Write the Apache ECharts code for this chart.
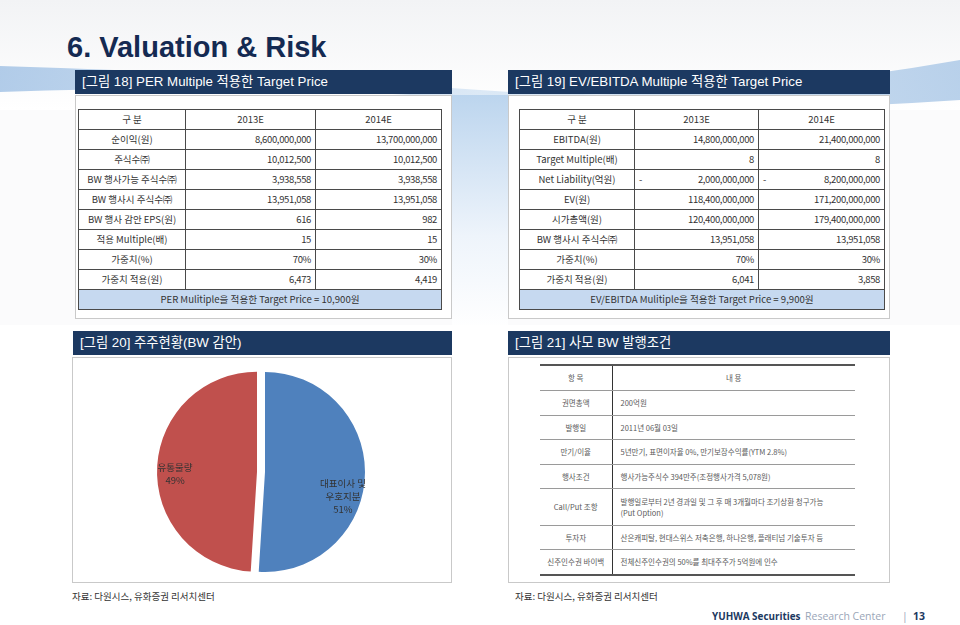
<!DOCTYPE html>
<html>
<head>
<meta charset="utf-8">
<script src="https://cdn.jsdelivr.net/npm/echarts@6/dist/echarts.min.js"></script>
<style>
  html, body { margin: 0; padding: 0; background: #ffffff; }
  #page { position: relative; width: 960px; height: 625px; overflow: hidden;
    font-family: 'Noto Sans CJK KR', 'Liberation Sans', sans-serif; background: #fbfbfc; }
  #bg { position: absolute; left: 0; top: 0; }
  .title { position: absolute; left: 67px; top: 31px; font: bold 29px 'Liberation Sans', Arial, sans-serif;
    color: #142a52; }
  .bar { position: absolute; height: 24px; line-height: 24px; background: #1c3961; color: #fff;
    font-family: 'Liberation Sans', 'Noto Sans CJK KR', sans-serif; font-size: 13.3px; padding-left: 7px; box-sizing: border-box; }
  .panel { position: absolute; background: #fff; border: 1px solid #c9c9c9; box-sizing: border-box; }
  table.val { position: absolute; border-collapse: collapse; table-layout: fixed; font-size: 9.5px; color: #333; }
  table.val td { border: 1px solid #4a4a4a; height: 19px; padding: 0 4px; line-height: 19px; white-space: nowrap; overflow: hidden; }
  table.val td.lab { text-align: center; }
  table.val td.num { text-align: right; letter-spacing: -0.35px; }
  table.val td.hd { text-align: center; }
  table.val td.tgt { background: #c6d9f0; text-align: center; font-size: 9.6px; }
  .acc { display: flex; justify-content: space-between; }
  table.bw { position: absolute; border-collapse: collapse; table-layout: fixed; font-size: 7.5px; color: #5a5a5a; }
  table.bw td { border-top: 1px solid #9a9a9a; border-bottom: 1px solid #9a9a9a; padding: 0 0 0 8px; line-height: 11px; }
  table.bw td.k { text-align: center; padding: 0; border-right: 1px solid #333; }
  table.bw tr:first-child td { border-top: 2px solid #555; }
  table.bw tr:last-child td { border-bottom: 2px solid #555; }
  table.bw tr:first-child td.c { text-align: center; padding: 0; }
  .src { position: absolute; top: 589px; font-size: 9.5px; color: #333; }
  .ft { position: absolute; top: 609px; font-size: 10.5px; line-height: 14px; white-space: nowrap;
    font-family: 'Open Sans', 'Noto Sans', sans-serif; }
  #pie { position: absolute; left: 72px; top: 357px; width: 380px; height: 225px; }
</style>
</head>
<body>
<div id="page">
  <svg id="bg" width="960" height="625">
    <defs>
      <linearGradient id="sw" x1="0" y1="0" x2="1" y2="0">
        <stop offset="0" stop-color="#9fc0e4"/>
        <stop offset="0.5" stop-color="#d4e4f4"/>
        <stop offset="1" stop-color="#a8c6e6"/>
      </linearGradient>
      <linearGradient id="gap" x1="0" y1="0" x2="0" y2="1">
        <stop offset="0" stop-color="#bcd5ee"/>
        <stop offset="0.6" stop-color="#eef4fb"/>
        <stop offset="1" stop-color="#ffffff"/>
      </linearGradient>
      <linearGradient id="top" x1="0" y1="0" x2="0" y2="1">
        <stop offset="0" stop-color="#f2f3f5"/>
        <stop offset="1" stop-color="#ffffff"/>
      </linearGradient>
    </defs>
    <rect x="0" y="0" width="960" height="110" fill="url(#top)"/>
    <path d="M0,66 Q260,74 480,90 T960,60 L960,100 Q700,118 480,100 T0,92 Z" fill="url(#sw)" opacity="0.8"/>
    <rect x="452" y="95" width="56" height="235" fill="url(#gap)"/>
    <rect x="0" y="325" width="960" height="300" fill="#ffffff"/>
  </svg>

  <div class="title">6. Valuation &amp; Risk</div>

  <div class="bar" style="left:75px;top:70px;width:377px;">[그림 18] PER Multiple 적용한 Target Price</div>
  <div class="bar" style="left:508px;top:70px;width:382px;">[그림 19] EV/EBITDA Multiple 적용한 Target Price</div>
  <div class="bar" style="left:73px;top:331px;width:379px;">[그림 20] 주주현황(BW 감안)</div>
  <div class="bar" style="left:508px;top:331px;width:382px;">[그림 21] 사모 BW 발행조건</div>

  <div class="panel" style="left:75px;top:95px;width:377px;height:224px;"></div>
  <div class="panel" style="left:508px;top:95px;width:382px;height:224px;"></div>
  <div class="panel" style="left:72px;top:357px;width:380px;height:226px;"></div>
  <div class="panel" style="left:508px;top:357px;width:382px;height:226px;"></div>

  <table class="val" id="perTable" style="left:78px;top:109px;width:363px;"></table>
  <table class="val" id="evTable" style="left:519px;top:109px;width:365px;"></table>
  <table class="bw" id="bwTable" style="left:540px;top:364px;width:315px;"></table>

  <div id="pie"></div>

  <div class="src" style="left:72px;">자료: 다원시스, 유화증권 리서치센터</div>
  <div class="src" style="left:515px;">자료: 다원시스, 유화증권 리서치센터</div>
  <div class="ft" style="left:712px;font-size:9.9px;"><b style="color:#1c3961;">YUHWA Securities</b></div>
  <div class="ft" style="left:805px;color:#9aa6b8;">Research Center</div>
  <div class="ft" style="left:902px;color:#9aa6b8;">|</div>
  <div class="ft" style="left:913px;color:#1c3961;"><b>13</b></div>
</div>

<script>
// ---- 데이터 ----
var yearLabels = ['2013E', '2014E'];

// [그림 18] PER
var perRows = ['순이익(원)', '주식수㈜', 'BW 행사가능 주식수㈜', 'BW 행사시 주식수㈜',
  'BW 행사 감안 EPS(원)', '적용 Multiple(배)', '가중치(%)', '가중치 적용(원)'];
var per2013 = [8600000000, 10012500, 3938558, 13951058, 616, 15, 70, 6473];
var per2014 = [13700000000, 10012500, 3938558, 13951058, 982, 15, 30, 4419];
var perTarget = 'PER Mulitiple을 적용한 Target Price = 10,900원';

// [그림 19] EV/EBITDA
var evRows = ['EBITDA(원)', 'Target Multiple(배)', 'Net Liability(억원)', 'EV(원)',
  '시가총액(원)', 'BW 행사시 주식수㈜', '가중치(%)', '가중치 적용(원)'];
var ev2013 = [14800000000, 8, -2000000000, 118400000000, 120400000000, 13951058, 70, 6041];
var ev2014 = [21400000000, 8, -8200000000, 171200000000, 179400000000, 13951058, 30, 3858];
var evTarget = 'EV/EBITDA Mulitiple을 적용한 Target Price = 9,900원';

// [그림 20] 주주현황
var holderNames = ['대표이사 및\n우호지분', '유통물량'];
var holderShares = [51, 49];
var holderColors = ['#4f81bd', '#c0504d'];

// [그림 21] 사모 BW 발행조건
var bwHead = ['항 목', '내 용'];
var bwItems = ['권면총액', '발행일', '만기/이율', '행사조건', 'Call/Put 조항', '투자자', '신주인수권 바이백'];
var bwContents = ['200억원', '2011년 06월 03일', '5년만기, 표면이자율 0%, 만기보장수익률(YTM 2.8%)',
  '행사가능주식수 394만주(조정행사가격 5,078원)',
  '발행일로부터 2년 경과일 및 그 후 매 3개월마다 조기상환 청구가능<br>(Put Option)',
  '산은캐피탈, 현대스위스 저축은행, 하나은행, 플래티넘 기술투자 등',
  '전체신주인수권의 50%를 최대주주가 5억원에 인수'];
var bwHeights = [25, 25, 24, 25, 24, 37, 24, 26];

// ---- 표 ----
function fmt(v, row) {
  if (row === 6) return v + '%';
  var s = Math.abs(v).toLocaleString('en-US');
  if (v < 0) return '<span class="acc"><span>-</span><span>' + s + '</span></span>';
  return s;
}

function buildValTable(id, rows, a, b, target, widths) {
  var html = '<colgroup>' + widths.map(function (w) { return '<col style="width:' + w + 'px">'; }).join('') + '</colgroup>';
  html += '<tr><td class="hd">구 분</td><td class="hd">' + yearLabels[0] + '</td><td class="hd">' + yearLabels[1] + '</td></tr>';
  rows.forEach(function (r, i) {
    html += '<tr><td class="lab">' + r + '</td><td class="num">' + fmt(a[i], i) + '</td><td class="num">' + fmt(b[i], i) + '</td></tr>';
  });
  html += '<tr><td class="tgt" colspan="3">' + target + '</td></tr>';
  document.getElementById(id).innerHTML = html;
}

buildValTable('perTable', perRows, per2013, per2014, perTarget, [107, 130, 126]);
buildValTable('evTable', evRows, ev2013, ev2014, evTarget, [115, 124, 126]);

(function () {
  var html = '<colgroup><col style="width:72px"><col style="width:243px"></colgroup>';
  html += '<tr style="height:' + bwHeights[0] + 'px"><td class="k">' + bwHead[0] + '</td><td class="c">' + bwHead[1] + '</td></tr>';
  bwItems.forEach(function (k, i) {
    html += '<tr style="height:' + bwHeights[i + 1] + 'px"><td class="k">' + k + '</td><td>' + bwContents[i] + '</td></tr>';
  });
  document.getElementById('bwTable').innerHTML = html;
})();

// ---- 파이 차트 ----
var myChart = echarts.init(document.getElementById('pie'));
var option = {
  animation: false,
  series: [{
    type: 'pie',
    center: [193, 115],
    radius: 100,
    startAngle: 90,
    clockwise: true,
    selectedMode: 'multiple',
    selectedOffset: 8,
    emphasis: { disabled: true },
    label: {
      position: 'inner',
      formatter: '{b}\n{c}%',
      color: '#333',
      fontSize: 9.5,
      lineHeight: 13,
      fontFamily: 'Noto Sans CJK KR'
    },
    labelLine: { show: false },
    labelLayout: function (params) {
      return params.dataIndex === 0 ? { dx: 25, dy: 23 } : { dx: -29, dy: 4 };
    },
    itemStyle: { borderWidth: 0 },
    data: holderNames.map(function (n, i) {
      return { name: n, value: holderShares[i], selected: i === 1, itemStyle: { color: holderColors[i] } };
    })
  }]
};
option && myChart.setOption(option);
</script>
</body>
</html>
